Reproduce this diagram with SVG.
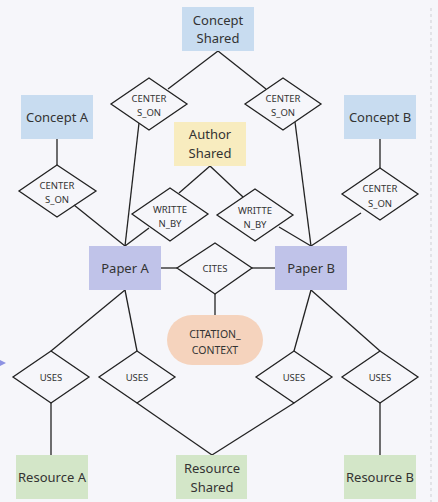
<svg xmlns="http://www.w3.org/2000/svg" width="438" height="502" viewBox="0 0 438 502">
<style>
.ent{stroke:none}
.concept{fill:#c8dcf0}
.author{fill:#f8ecbf}
.paper{fill:#c0c3e9}
.res{fill:#d3e6c8}
.ctx{fill:#f5d3bd}
.rel{fill:none;stroke:#222;stroke-width:1.3}
.edge{stroke:#222;stroke-width:1.3;fill:none}
.t{font-family:"Noto Sans","Open Sans",sans-serif;font-size:13px;fill:#333;text-anchor:middle;dominant-baseline:central}
.s{font-family:"Noto Sans","Open Sans",sans-serif;font-size:9.5px;fill:#333;text-anchor:middle;dominant-baseline:central}
</style>
<rect width="438" height="502" fill="#f6f6fa"/>
<line x1="431" y1="8" x2="431" y2="502" stroke="#cfcfd4" stroke-width="1" stroke-dasharray="3,3"/>
<polygon points="0,360 6,363 0,366" fill="#8d92e2"/>
<g id="connectors">
<line class="edge" x1="218" y1="51" x2="168" y2="89"/>
<line class="edge" x1="218" y1="51" x2="266" y2="89"/>
<line class="edge" x1="139" y1="123" x2="125" y2="246"/>
<line class="edge" x1="295" y1="122" x2="311" y2="246"/>
<line class="edge" x1="57" y1="139" x2="57" y2="165"/>
<line class="edge" x1="74" y1="205" x2="125" y2="246"/>
<line class="edge" x1="380" y1="139" x2="380" y2="168"/>
<line class="edge" x1="361" y1="213" x2="311" y2="246"/>
<line class="edge" x1="210" y1="166" x2="179" y2="193"/>
<line class="edge" x1="210" y1="166" x2="243" y2="197"/>
<line class="edge" x1="149" y1="228" x2="125" y2="246"/>
<line class="edge" x1="279" y1="227" x2="311" y2="246"/>
<line class="edge" x1="161" y1="268" x2="177" y2="268"/>
<line class="edge" x1="252" y1="268" x2="275" y2="268"/>
<line class="edge" x1="215" y1="294" x2="215" y2="315"/>
<line class="edge" x1="125" y1="290" x2="51" y2="351"/>
<line class="edge" x1="125" y1="290" x2="137" y2="351"/>
<line class="edge" x1="311" y1="290" x2="294" y2="351"/>
<line class="edge" x1="311" y1="290" x2="380" y2="351"/>
<line class="edge" x1="51" y1="403" x2="51" y2="455"/>
<line class="edge" x1="137" y1="403" x2="212" y2="455"/>
<line class="edge" x1="294" y1="403" x2="212" y2="455"/>
<line class="edge" x1="380" y1="403" x2="380" y2="455"/>
</g>
<g id="concept-shared"><rect class="ent concept" x="182" y="7" width="72" height="44"/><text class="t" x="218" y="20">Concept</text><text class="t" x="218" y="38">Shared</text></g>
<g id="concept-a"><rect class="ent concept" x="21" y="95" width="72" height="44"/><text class="t" x="57" y="117">Concept A</text></g>
<g id="concept-b"><rect class="ent concept" x="344" y="95" width="72" height="44"/><text class="t" x="380" y="117">Concept B</text></g>
<g id="author-shared"><rect class="ent author" x="174" y="122" width="72" height="44"/><text class="t" x="210" y="134">Author</text><text class="t" x="210" y="153">Shared</text></g>
<g id="paper-a"><rect class="ent paper" x="89" y="246" width="72" height="44"/><text class="t" x="125" y="268">Paper A</text></g>
<g id="paper-b"><rect class="ent paper" x="275" y="246" width="72" height="44"/><text class="t" x="311" y="268">Paper B</text></g>
<g id="resource-a"><rect class="ent res" x="16" y="455" width="72" height="44"/><text class="t" x="52" y="477">Resource A</text></g>
<g id="resource-shared"><rect class="ent res" x="176" y="455" width="71" height="44"/><text class="t" x="212" y="468">Resource</text><text class="t" x="212" y="487">Shared</text></g>
<g id="resource-b"><rect class="ent res" x="344" y="455" width="72" height="44"/><text class="t" x="380" y="477">Resource B</text></g>
<g id="citation-context"><rect class="ent ctx" x="167" y="315" width="96" height="50" rx="25"/><text class="s" x="215" y="334" style="font-size:10.5px">CITATION_</text><text class="s" x="215" y="350" style="font-size:10.5px">CONTEXT</text></g>
<g id="centers-on-1"><polygon class="rel" points="149,78 187,104 149,130 111,104"/><text class="s" x="149" y="98">CENTER</text><text class="s" x="149" y="112">S_ON</text></g>
<g id="centers-on-2"><polygon class="rel" points="283,78 321,104 283,130 245,104"/><text class="s" x="283" y="98">CENTER</text><text class="s" x="283" y="112">S_ON</text></g>
<g id="centers-on-a"><polygon class="rel" points="57,165 96,191 57,217 19,191"/><text class="s" x="57" y="185">CENTER</text><text class="s" x="57" y="199">S_ON</text></g>
<g id="centers-on-b"><polygon class="rel" points="380,168 418,194 380,220 342,194"/><text class="s" x="380" y="188">CENTER</text><text class="s" x="380" y="203">S_ON</text></g>
<g id="written-by-a"><polygon class="rel" points="170,188 208,214 170,241 132,214"/><text class="s" x="170" y="209">WRITTE</text><text class="s" x="170" y="223">N_BY</text></g>
<g id="written-by-b"><polygon class="rel" points="255,189 293,215 255,241 217,215"/><text class="s" x="255" y="210">WRITTE</text><text class="s" x="255" y="224">N_BY</text></g>
<g id="cites"><polygon class="rel" points="215,243 252,268 215,294 177,268"/><text class="s" x="215" y="268">CITES</text></g>
<g id="uses-1"><polygon class="rel" points="51,351 89,377 51,403 13,377"/><text class="s" x="51" y="377">USES</text></g>
<g id="uses-2"><polygon class="rel" points="137,351 175,377 137,403 99,377"/><text class="s" x="137" y="377">USES</text></g>
<g id="uses-3"><polygon class="rel" points="294,351 332,377 294,403 256,377"/><text class="s" x="294" y="377">USES</text></g>
<g id="uses-4"><polygon class="rel" points="380,351 418,377 380,403 342,377"/><text class="s" x="380" y="377">USES</text></g>
</svg>
